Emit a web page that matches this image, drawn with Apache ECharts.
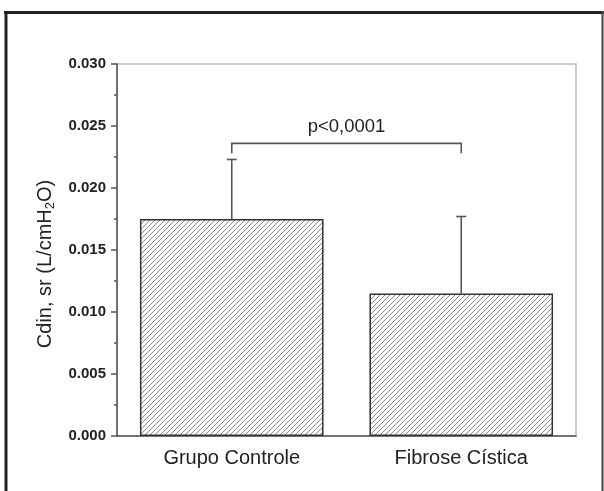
<!DOCTYPE html>
<html><head><meta charset="utf-8">
<script src="https://cdn.jsdelivr.net/npm/echarts@6/dist/echarts.min.js"></script>
<style>html,body{margin:0;padding:0;background:#fff}#c{width:604px;height:491px}</style>
</head><body><div id="c"></div>
<script>
// ---- data ----
const categories = ['Grupo Controle', 'Fibrose Cística'];
const means = [0.0175, 0.0115];
const errorTops = [0.0223, 0.0177];
const bracketX = [0, 1];
const bracketY = [0.0228, 0.0236];
const bracketLabel = 'p<0,0001';
const yAxisName = ['Cdin, sr (L/cmH', '2', 'O)'];

// hatch pattern
const tile = document.createElement('canvas');
tile.width = 5; tile.height = 5;
const g = tile.getContext('2d');
g.fillStyle = '#fff'; g.fillRect(0, 0, 5, 5);
g.strokeStyle = '#8a8a8a'; g.lineWidth = 1;
g.beginPath();
for (const c of [-5, 0, 5, 10]) { g.moveTo(c - 5, 10); g.lineTo(c + 10, -5); }
g.stroke();

const chart = echarts.init(document.getElementById('c'), null, {renderer: 'canvas'});
const F = 'Liberation Sans, Arial, sans-serif';

chart.setOption({
  animation: false,
  grid: {left: 117, top: 64, right: 28, bottom: 55, show: true, borderColor: '#bbb', borderWidth: 1.5, backgroundColor: 'transparent'},
  xAxis: {
    type: 'category', data: categories,
    axisLine: {lineStyle: {color: '#555', width: 1.5}},
    axisTick: {alignWithLabel: true, length: 6, lineStyle: {color: '#555', width: 1.5}},
    axisLabel: {color: '#222', fontFamily: F, fontSize: 20, margin: 12}
  },
  yAxis: {
    type: 'value', min: 0, max: 0.03, interval: 0.005,
    axisLine: {show: true, lineStyle: {color: '#555', width: 1.5}},
    axisTick: {show: true, length: 6, lineStyle: {color: '#555', width: 1.5}},
    minorTick: {show: true, splitNumber: 2, length: 3, lineStyle: {color: '#555', width: 1.5}},
    splitLine: {show: false},
    axisLabel: {color: '#222', fontFamily: F, fontSize: 15, fontWeight: 'bold', margin: 11,
      formatter: v => v.toFixed(3)}
  },
  series: [
    {
      type: 'bar', data: means, barCategoryGap: '20%',
      itemStyle: {color: {image: tile, repeat: 'repeat'}, borderColor: '#333', borderWidth: 1.5}
    },
    {
      type: 'custom', z: 5,
      data: means.map((m, i) => [i, m, errorTops[i]]),
      renderItem: (params, api) => {
        const b = api.coord([api.value(0), api.value(1)]);
        const t = api.coord([api.value(0), api.value(2)]);
        const st = {stroke: '#555', lineWidth: 1.6};
        return {type: 'group', children: [
          {type: 'line', shape: {x1: b[0], y1: b[1], x2: t[0], y2: t[1]}, style: st},
          {type: 'line', shape: {x1: t[0] - 5, y1: t[1], x2: t[0] + 5, y2: t[1]}, style: st}
        ]};
      }
    },
    {
      type: 'custom', z: 5,
      data: [[bracketX[0], bracketX[1], bracketY[0], bracketY[1]]],
      renderItem: (params, api) => {
        const a = api.coord([api.value(0), api.value(2)]);
        const a2 = api.coord([api.value(0), api.value(3)]);
        const c = api.coord([api.value(1), api.value(2)]);
        const c2 = api.coord([api.value(1), api.value(3)]);
        return {type: 'group', children: [
          {type: 'polyline', shape: {points: [a, a2, c2, c]}, style: {stroke: '#555', lineWidth: 1.6, fill: null}},
          {type: 'text', x: (a2[0] + c2[0]) / 2, y: a2[1] - 7,
            style: {text: bracketLabel, fill: '#222', font: '18.5px ' + F, align: 'center', verticalAlign: 'bottom'}}
        ]};
      }
    }
  ],
  graphic: [
    {type: 'line', shape: {x1: 4, y1: 12.5, x2: 604, y2: 12.5}, style: {stroke: '#222', lineWidth: 3}},
    {type: 'line', shape: {x1: 6, y1: 11, x2: 6, y2: 491}, style: {stroke: '#222', lineWidth: 3}},
    {type: 'line', shape: {x1: 602.5, y1: 11, x2: 602.5, y2: 491}, style: {stroke: '#444', lineWidth: 2}},
    {type: 'text', x: 45, y: 264, rotation: Math.PI / 2,
      style: {
        text: yAxisName[0] + '{s|' + yAxisName[1] + '}' + yAxisName[2],
        font: '20px ' + F, fill: '#222', align: 'center', verticalAlign: 'middle',
        rich: {s: {fontSize: 13, fontFamily: F, fill: '#222', padding: [10, 0, 0, 0]}}
      }}
  ]
});
</script></body></html>
